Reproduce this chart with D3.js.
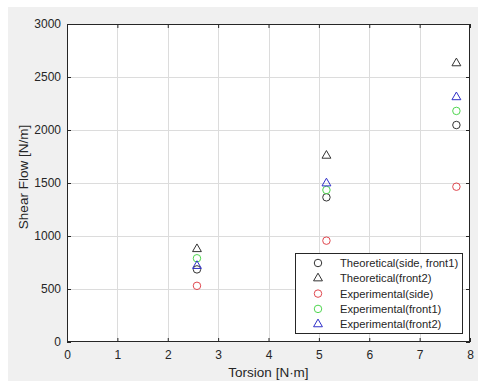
<!DOCTYPE html>
<html>
<head>
<meta charset="utf-8">
<script src="https://cdn.jsdelivr.net/npm/d3@7"></script>
<style>
  html, body { margin: 0; padding: 0; background: #fff; }
  svg { display: block; font-family: Arial, "Liberation Sans", sans-serif; }
</style>
</head>
<body>
<svg id="svg" width="478" height="381"></svg>
<script>
const torsion = [2.58, 5.15, 7.73];
const theoSideFront1 = [685, 1365, 2047];
const theoFront2 = [877, 1758, 2630];
const expSide = [530, 956, 1465];
const expFront1 = [790, 1434, 2180];
const expFront2 = [718, 1497, 2310];
const xTicks = [0, 1, 2, 3, 4, 5, 6, 7, 8];
const yTicks = [0, 500, 1000, 1500, 2000, 2500, 3000];

const series = [
  { name: 'Theoretical(side, front1)', values: theoSideFront1, shape: 'circle', color: '#333333' },
  { name: 'Theoretical(front2)', values: theoFront2, shape: 'triangle', color: '#333333' },
  { name: 'Experimental(side)', values: expSide, shape: 'circle', color: '#e0484f' },
  { name: 'Experimental(front1)', values: expFront1, shape: 'circle', color: '#4fd64f' },
  { name: 'Experimental(front2)', values: expFront2, shape: 'triangle', color: '#3030c8' }
];

const svg = d3.select('#svg');
const m = { left: 67, right: 470, top: 24, bottom: 342 };

svg.append('rect').attr('x', 8).attr('y', 7).attr('width', 470).attr('height', 374).attr('fill', '#f0f0f0');

const x = d3.scaleLinear().domain([0, 8]).range([m.left, m.right]);
const y = d3.scaleLinear().domain([0, 3000]).range([m.bottom, m.top]);

svg.append('rect').attr('x', m.left).attr('y', m.top)
  .attr('width', m.right - m.left).attr('height', m.bottom - m.top).attr('fill', '#fff');

// grid
const grid = svg.append('g').attr('stroke', '#dcdcdc').attr('stroke-width', 1);
grid.selectAll('.gx').data(xTicks.slice(1, -1)).join('line')
  .attr('x1', d => Math.round(x(d)) + 0.5).attr('x2', d => Math.round(x(d)) + 0.5)
  .attr('y1', m.top).attr('y2', m.bottom);
grid.selectAll('.gy').data(yTicks.slice(1, -1)).join('line')
  .attr('y1', d => Math.round(y(d)) + 0.5).attr('y2', d => Math.round(y(d)) + 0.5)
  .attr('x1', m.left).attr('x2', m.right);

// axes with inward ticks
const fmt = d3.format('d');
const ax = (g) => g.call(s => s.select('.domain').remove())
  .call(s => s.selectAll('.tick line').attr('stroke', '#262626'))
  .call(s => s.selectAll('.tick text').attr('fill', '#262626').attr('font-size', 12));

svg.append('g').attr('transform', `translate(0,${m.bottom})`)
  .call(d3.axisBottom(x).tickValues(xTicks).tickFormat(fmt).tickSize(-4).tickPadding(8)).call(ax);
svg.append('g').attr('transform', `translate(0,${m.top})`)
  .call(d3.axisTop(x).tickValues(xTicks).tickFormat('').tickSize(-4)).call(ax);
svg.append('g').attr('transform', `translate(${m.left},0)`)
  .call(d3.axisLeft(y).tickValues(yTicks).tickFormat(fmt).tickSize(-4).tickPadding(6)).call(ax);
svg.append('g').attr('transform', `translate(${m.right},0)`)
  .call(d3.axisRight(y).tickValues(yTicks).tickFormat('').tickSize(-4)).call(ax);

svg.append('rect').attr('x', m.left + 0.5).attr('y', m.top + 0.5)
  .attr('width', m.right - m.left - 1).attr('height', m.bottom - m.top - 1)
  .attr('fill', 'none').attr('stroke', '#262626').attr('stroke-width', 1);

// labels
svg.append('text').attr('x', (m.left + m.right) / 2).attr('y', 377)
  .attr('text-anchor', 'middle').attr('font-size', 13.5).attr('fill', '#262626').text('Torsion [N·m]');
svg.append('text').attr('transform', `translate(23,177) rotate(-90)`)
  .attr('text-anchor', 'middle').attr('dy', '0.35em').attr('font-size', 13.5).attr('fill', '#262626').text('Shear Flow [N/m]');

const sym = { circle: d3.symbol(d3.symbolCircle, 44)(), triangle: d3.symbol(d3.symbolTriangle, 34)() };

const pts = svg.append('g');
series.forEach(s => {
  pts.selectAll(null).data(s.values).join('path')
    .attr('d', sym[s.shape])
    .attr('transform', (d, i) => `translate(${x(torsion[i])},${y(d)})`)
    .attr('fill', 'none').attr('stroke', s.color).attr('stroke-width', 1);
});

// legend
const lg = svg.append('g').attr('transform', 'translate(295,253)');
lg.append('rect').attr('x', 0.5).attr('y', 0.5).attr('width', 167).attr('height', 80)
  .attr('fill', '#fff').attr('stroke', '#262626');
series.forEach((s, i) => {
  const yy = 10 + i * 15.3;
  lg.append('path').attr('d', sym[s.shape]).attr('transform', `translate(23,${yy})`)
    .attr('fill', 'none').attr('stroke', s.color);
  lg.append('text').attr('x', 45).attr('y', yy).attr('dy', '0.35em')
    .attr('font-size', 11.2).attr('fill', '#262626').text(s.name);
});
</script>
</body>
</html>
